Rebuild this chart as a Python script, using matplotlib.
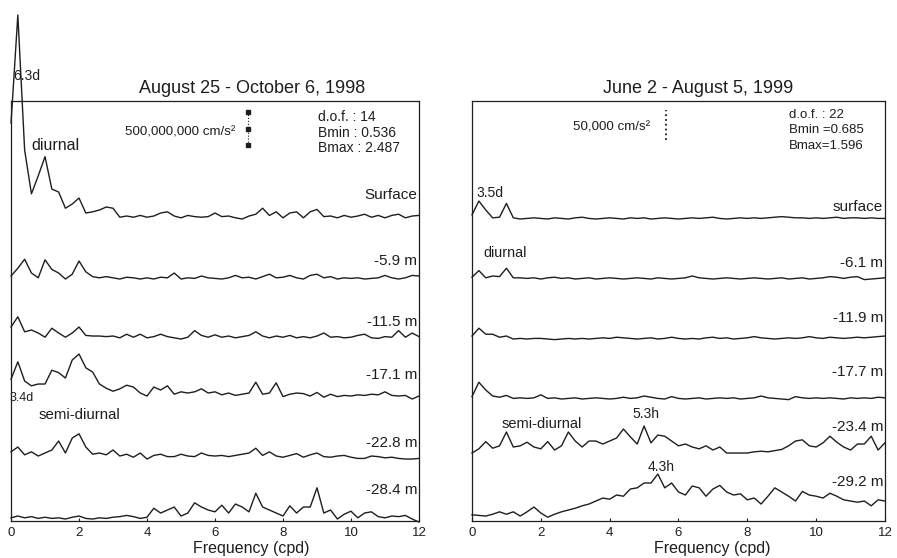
import numpy as np
import matplotlib
matplotlib.use("Agg")
import matplotlib.pyplot as plt

plt.rcParams['font.family'] = ['Liberation Sans', 'DejaVu Sans']

# frequency grid (cpd), spectra every 0.2 cpd
freq = np.linspace(0, 12, 61)

# ---- 1998 (left panel), level above each trace's baseline ----
surf_98 = [1.6, 3.4, 1.15, 0.42, 0.72, 1.04, 0.5, 0.45, 0.18, 0.25, 0.35,
           0.1, 0.12, 0.15, 0.2, 0.18, 0.03, 0.05, 0.03, 0.06, 0.03,
           0.05, 0.1, 0.12, 0.05, 0.02, 0.06, 0.04, 0.03, 0.04, 0.1,
           0.04, 0.05, 0.02, 0.0, 0.05, 0.08, 0.18, 0.06, 0.12, 0.02,
           0.1, 0.12, 0.02, 0.12, 0.16, 0.04, 0.05, 0.02, 0.06, 0.03,
           0.05, 0.08, 0.03, 0.06, 0.02, 0.06, 0.08, 0.02, 0.05, 0.06]
m59 = [0.05, 0.18, 0.33, 0.1, 0.02, 0.32, 0.16, 0.1, 0.0, 0.08, 0.3,
       0.12, 0.04, 0.02, 0.04, 0.02, 0.0, 0.03, 0.02, 0.0, 0.02,
       0.0, 0.03, 0.02, 0.1, 0.0, 0.02, 0.01, 0.05, 0.02, 0.01,
       0.0, 0.02, 0.06, 0.02, 0.03, 0.0, 0.04, 0.08, 0.02, 0.03,
       0.06, 0.02, 0.0, 0.06, 0.08, 0.02, 0.04, 0.0, 0.02, 0.01,
       0.02, 0.0, 0.01, 0.02, 0.06, 0.02, 0.0, 0.02, 0.06, 0.05]
m115 = [0.2, 0.37, 0.12, 0.15, 0.1, 0.03, 0.18, 0.1, 0.03, 0.1, 0.2,
        0.06, 0.05, 0.05, 0.04, 0.05, 0.02, 0.08, 0.03, 0.08, 0.02,
        0.04, 0.08, 0.04, 0.02, 0.0, 0.03, 0.14, 0.06, 0.03, 0.07,
        0.03, 0.05, 0.02, 0.04, 0.06, 0.12, 0.05, 0.02, 0.05, 0.03,
        0.06, 0.02, 0.04, 0.02, 0.05, 0.1, 0.03, 0.04, 0.02, 0.03,
        0.06, 0.08, 0.02, 0.01, 0.04, 0.03, 0.14, 0.03, 0.1, 0.04]
m171 = [0.33, 0.62, 0.3, 0.22, 0.25, 0.25, 0.48, 0.44, 0.35, 0.65, 0.75,
        0.52, 0.45, 0.25, 0.18, 0.13, 0.17, 0.23, 0.2, 0.1, 0.05,
        0.2, 0.15, 0.22, 0.08, 0.12, 0.1, 0.12, 0.17, 0.1, 0.12,
        0.07, 0.1, 0.06, 0.08, 0.1, 0.28, 0.08, 0.1, 0.27, 0.04,
        0.08, 0.1, 0.09, 0.05, 0.11, 0.03, 0.08, 0.04, 0.06, 0.05,
        0.07, 0.06, 0.08, 0.07, 0.12, 0.06, 0.05, 0.06, 0.0, 0.05]
m228 = [0.12, 0.2, 0.07, 0.12, 0.05, 0.1, 0.15, 0.3, 0.1, 0.35, 0.42,
        0.2, 0.08, 0.1, 0.07, 0.15, 0.05, 0.08, 0.03, 0.1, 0.0,
        0.06, 0.08, 0.04, 0.04, 0.08, 0.05, 0.04, 0.1, 0.06, 0.05,
        0.06, 0.04, 0.06, 0.08, 0.1, 0.18, 0.06, 0.12, 0.05, 0.03,
        0.06, 0.09, 0.03, 0.07, 0.1, 0.04, 0.03, 0.05, 0.06, 0.03,
        0.01, 0.01, 0.05, 0.04, 0.02, 0.03, 0.01, 0.0, 0.0, 0.01]
m284 = [0.02, 0.05, 0.02, 0.04, 0.01, 0.03, 0.01, 0.02, 0.0, 0.03, 0.05,
        0.01, 0.0, 0.02, 0.01, 0.03, 0.04, 0.06, 0.04, 0.01, 0.03,
        0.18, 0.1, 0.15, 0.2, 0.05, 0.1, 0.27, 0.2, 0.15, 0.12,
        0.23, 0.1, 0.25, 0.2, 0.12, 0.43, 0.2, 0.15, 0.1, 0.05,
        0.22, 0.1, 0.2, 0.2, 0.52, 0.1, 0.15, 0.0, 0.08, 0.13,
        0.02, 0.1, 0.12, 0.04, 0.02, 0.05, 0.04, 0.06, 0.0, -0.05]

# ---- 1999 (right panel) ----
surf_99 = [0.07, 0.3, 0.15, 0.02, 0.03, 0.26, 0.02, 0.0, 0.01, 0.02, 0.01,
           0.0, 0.02, 0.01, 0.0, 0.02, 0.03, 0.01, 0.0, 0.01, 0.02,
           0.01, 0.0, 0.02, 0.01, 0.02, 0.0, 0.01, 0.02, 0.01, 0.0,
           0.01, 0.02, 0.01, 0.02, 0.03, 0.01, 0.0, 0.01, 0.02, 0.01,
           0.02, 0.01, 0.02, 0.03, 0.04, 0.03, 0.02, 0.02, 0.01, 0.02,
           0.01, 0.02, 0.03, 0.01, 0.02, 0.02, 0.01, 0.02, 0.01, 0.01]
m61 = [0.03, 0.14, 0.02, 0.05, 0.04, 0.18, 0.02, 0.02, 0.01, 0.02, 0.0,
       0.02, 0.03, 0.01, 0.02, 0.0, 0.01, 0.02, 0.0, 0.01, 0.02,
       0.01, 0.0, 0.01, 0.02, 0.01, 0.0, 0.02, 0.01, 0.0, 0.01,
       0.02, 0.05, 0.02, 0.01, 0.0, 0.01, 0.02, 0.01, 0.0, 0.01,
       0.02, 0.01, 0.0, 0.01, 0.02, 0.0, 0.01, 0.02, 0.0, 0.01,
       0.02, 0.04, 0.03, 0.01, 0.03, 0.04, -0.01, 0.0, 0.01, 0.02]
m119 = [0.05, 0.18, 0.08, 0.08, 0.03, 0.05, 0.0, 0.01, 0.0, 0.01, 0.01,
        0.0, -0.01, 0.0, 0.01, 0.0, 0.01, 0.0, 0.01, 0.02, 0.01,
        0.03, 0.02, 0.01, 0.0, 0.01, 0.02, 0.0, 0.01, 0.03, 0.01,
        0.0, 0.01, 0.0, 0.02, 0.03, 0.01, 0.02, 0.0, 0.01, 0.02,
        0.04, 0.02, 0.01, 0.0, 0.01, 0.02, 0.01, 0.02, 0.04, 0.02,
        0.01, 0.03, 0.02, 0.01, 0.02, 0.03, 0.02, 0.03, 0.04, 0.05]
m177 = [0.04, 0.28, 0.15, 0.05, 0.03, 0.06, 0.01, 0.02, 0.01, 0.02, 0.07,
        0.01, 0.02, 0.0, 0.01, 0.02, 0.0, 0.01, 0.02, 0.01, 0.0,
        0.01, 0.03, 0.01, 0.02, 0.05, 0.03, 0.01, 0.0, 0.04, 0.01,
        0.0, 0.01, 0.02, 0.0, 0.01, 0.02, 0.01, 0.02, 0.0, 0.01,
        0.02, 0.05, 0.02, 0.01, 0.0, -0.01, 0.04, 0.02, 0.01, 0.02,
        0.01, 0.02, 0.01, 0.0, 0.02, 0.01, 0.02, 0.01, 0.03, 0.02]
m234 = [0.1, 0.17, 0.29, 0.18, 0.22, 0.45, 0.2, 0.22, 0.28, 0.2, 0.17,
        0.29, 0.15, 0.22, 0.45, 0.3, 0.2, 0.3, 0.3, 0.25, 0.3,
        0.35, 0.5, 0.37, 0.25, 0.55, 0.27, 0.4, 0.38, 0.3, 0.22,
        0.25, 0.2, 0.17, 0.22, 0.15, 0.2, 0.1, 0.1, 0.1, 0.1,
        0.12, 0.13, 0.12, 0.14, 0.16, 0.22, 0.3, 0.32, 0.22, 0.2,
        0.27, 0.38, 0.28, 0.2, 0.15, 0.25, 0.25, 0.38, 0.15, 0.27]
m292 = [0.07, 0.06, 0.05, 0.08, 0.12, 0.08, 0.12, 0.05, 0.12, 0.2, 0.1,
        0.03, 0.08, 0.12, 0.15, 0.18, 0.22, 0.25, 0.3, 0.35, 0.33,
        0.4, 0.38, 0.5, 0.52, 0.6, 0.6, 0.75, 0.52, 0.6, 0.45,
        0.4, 0.55, 0.52, 0.38, 0.5, 0.56, 0.45, 0.4, 0.42, 0.32,
        0.35, 0.25, 0.38, 0.52, 0.45, 0.38, 0.3, 0.46, 0.4, 0.38,
        0.35, 0.43, 0.38, 0.32, 0.3, 0.28, 0.3, 0.22, 0.32, 0.3]

left_series = [surf_98, m59, m115, m171, m228, m284]
left_names = ["Surface", "-5.9 m", "-11.5 m", "-17.1 m", "-22.8 m", "-28.4 m"]
left_label_y = [5.4, 4.3, 3.29, 2.4, 1.27, 0.48]

right_series = [surf_99, m61, m119, m177, m234, m292]
right_names = ["surface", "-6.1 m", "-11.9 m", "-17.7 m", "-23.4 m", "-29.2 m"]
right_label_y = [5.2, 4.27, 3.35, 2.45, 1.53, 0.62]

offsets = [5, 4, 3, 2, 1, 0]
ink = '#1e1e1e'

fig = plt.figure(figsize=(8.97, 5.58), dpi=100)
ax1 = fig.add_axes([0.0123, 0.0663, 0.4548, 0.7527])
ax2 = fig.add_axes([0.5262, 0.0663, 0.4604, 0.7527])


def setup(ax):
    ax.set_xlim(0, 12)
    ax.set_ylim(-0.033, 6.967)
    ax.set_xticks(range(0, 13, 2))
    ax.set_yticks([])
    ax.tick_params(axis='x', direction='in', length=2, pad=4, labelsize=9.5, colors=ink)
    for s in ax.spines.values():
        s.set_linewidth(0.9)
        s.set_color(ink)


def draw(ax, series, names, label_y, xlabel_x, title, title_x):
    setup(ax)
    for vals, off, name, ly in zip(series, offsets, names, label_y):
        ax.plot(freq, np.array(vals) + off, color=ink, lw=1.0, clip_on=False)
        ax.text(11.95, ly, name, ha='right', va='center', fontsize=11, color=ink)
    ax.text(title_x, 7.18, title, ha='center', va='center', fontsize=13, color=ink)
    ax.text(xlabel_x, -0.49, "Frequency (cpd)", ha='center', va='center',
            fontsize=11.5, color=ink)


draw(ax1, left_series, left_names, left_label_y, 7.08,
     "August 25 - October 6, 1998", 7.1)
draw(ax2, right_series, right_names, right_label_y, 6.99,
     "June 2 - August 5, 1999", 6.58)

# left panel annotations
ax1.text(0.06, 7.38, "6.3d", ha='left', va='center', fontsize=10, color=ink)
ax1.text(0.59, 6.23, "diurnal", ha='left', va='center', fontsize=11.5, color=ink)
ax1.text(-0.03, 2.02, "3.4d", ha='left', va='center', fontsize=9, color=ink)
ax1.text(0.8, 1.73, "semi-diurnal", ha='left', va='center', fontsize=10.8, color=ink)
ax1.text(6.61, 6.45, "500,000,000 cm/s²", ha='right', va='center', fontsize=9.6, color=ink)
ax1.plot([6.96, 6.96], [6.23, 6.78], color=ink, lw=0.8, ls=':')
ax1.plot([6.96, 6.96, 6.96], [6.23, 6.5, 6.78], 's', color=ink, ms=3)
for t, yy in zip(["d.o.f. : 14", "Bmin : 0.536", "Bmax : 2.487"], [6.7, 6.44, 6.18]):
    ax1.text(9.03, yy, t, ha='left', va='center', fontsize=10, color=ink)

# right panel annotations
ax2.text(0.12, 5.43, "3.5d", ha='left', va='center', fontsize=10, color=ink)
ax2.text(0.32, 4.43, "diurnal", ha='left', va='center', fontsize=10.4, color=ink)
ax2.text(0.87, 1.58, "semi-diurnal", ha='left', va='center', fontsize=10.5, color=ink)
ax2.text(4.66, 1.75, "5.3h", ha='left', va='center', fontsize=10, color=ink)
ax2.text(5.1, 0.87, "4.3h", ha='left', va='center', fontsize=10, color=ink)
ax2.text(5.18, 6.53, "50,000 cm/s²", ha='right', va='center', fontsize=9.6, color=ink)
ax2.plot([5.65, 5.65], [6.32, 6.82], color=ink, lw=1.3, ls=':')
for t, yy in zip(["d.o.f. : 22", "Bmin =0.685", "Bmax=1.596"], [6.73, 6.48, 6.21]):
    ax2.text(9.2, yy, t, ha='left', va='center', fontsize=9.5, color=ink)

fig.savefig("out.png", dpi=100, facecolor='white')
